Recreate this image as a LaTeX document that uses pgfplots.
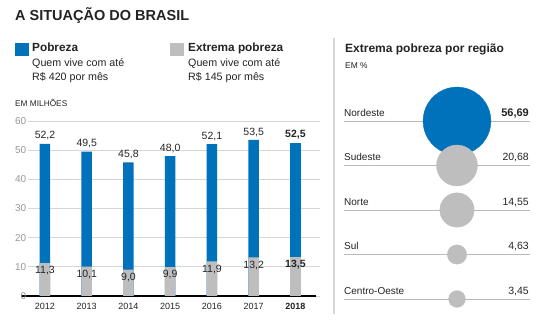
\documentclass[border=0pt]{standalone}
\usepackage{fontspec}
\setmainfont{Liberation Sans}
\usepackage{pgfplots}
\usepackage{pgfplotstable}
\pgfplotsset{compat=1.18}
\definecolor{pblue}{RGB}{0,114,187}
\definecolor{pgray}{RGB}{190,190,190}
\definecolor{gridc}{RGB}{214,214,214}
\definecolor{tickc}{RGB}{150,150,150}
\definecolor{txt}{RGB}{35,35,35}
\definecolor{rline}{RGB}{185,185,185}

\pgfplotstableread{
year total ext
2012 52.2 11.3
2013 49.5 10.1
2014 45.8 9.0
2015 48.0 9.9
2016 52.1 11.9
2017 53.5 13.2
}\tabA
\pgfplotstableread{
year total ext
2018 52.5 13.5
}\tabB
\pgfplotstableread{
row x v
0 0.6075 56.69
}\tabNE
\pgfplotstableread{
row x v
1 0.6075 20.68
2 0.6075 14.55
3 0.6075 4.63
4 0.6075 3.45
}\tabRest

\newcommand\fs[1]{\fontsize{#1}{#1}\selectfont}
\newcommand\numfmt{\pgfmathprintnumber[fixed,fixed zerofill,precision=1,use comma,assume math mode=true]{\pgfplotspointmeta}}

\begin{document}
\begin{tikzpicture}[x=1pt,y=1pt]
\path[use as bounding box] (0pt,0pt) rectangle (555pt,-328pt);
% title and legend
\node[anchor=base west, inner sep=0, text=txt] at (15pt,-21pt) {\fs{14.5}\bfseries A SITUAÇÃO DO BRASIL};
\fill[pblue] (15pt,-43pt) rectangle (29pt,-56pt);
\node[anchor=base west, inner sep=0, text=txt] at (32pt,-52pt) {\fs{11.8}\bfseries Pobreza};
\node[anchor=base west, inner sep=0, text=txt] at (32pt,-66.5pt) {\fs{10.7}Quem vive com até};
\node[anchor=base west, inner sep=0, text=txt] at (32pt,-81pt) {\fs{10.7}R\$ 420 por mês};
\fill[pgray] (170pt,-43pt) rectangle (184pt,-56pt);
\node[anchor=base west, inner sep=0, text=txt] at (188pt,-52pt) {\fs{11.8}\bfseries Extrema pobreza};
\node[anchor=base west, inner sep=0, text=txt] at (188pt,-66.5pt) {\fs{10.7}Quem vive com até};
\node[anchor=base west, inner sep=0, text=txt] at (188pt,-81pt) {\fs{10.7}R\$ 145 por mês};
\node[anchor=base west, inner sep=0, text=txt] at (15pt,-107pt) {\fs{8.3}EM MILHÕES};

% bar chart
\begin{axis}[
  at={(28pt,-296pt)}, anchor=south west, scale only axis,
  width=292pt, height=175pt,
  xmin=2011.593, xmax=2018.589, ymin=0, ymax=60,
  ybar, bar width=10.5pt,
  axis x line*=bottom, axis y line*=left,
  y axis line style={draw=none},
  x axis line style={draw=black, line width=1.2pt, shorten <=-7pt, shorten >=4pt},
  ytick={0,10,...,60}, ymajorgrids,
  grid style={gridc, line width=0.8pt},
  major tick length=0pt,
  yticklabel style={text=tickc, font=\fs{10}, inner sep=1.5pt},
  xtick={2012,2013,2014,2015,2016,2017,2018},
  xticklabels={2012,2013,2014,2015,2016,2017,\textbf{2018}},
  xticklabel style={font=\fs{9}, text=txt, yshift=-4pt},
  /pgf/number format/assume math mode=true,
  clip=false,
]
\addplot[fill=pblue, draw=none, bar shift=0pt,
  nodes near coords={\numfmt},
  every node near coord/.append style={font=\fs{10.5}, text=txt}]
  table[x=year, y=total]{\tabA};
\addplot[fill=pblue, draw=none, bar shift=0pt,
  nodes near coords={\textbf{\numfmt}},
  every node near coord/.append style={font=\fs{10.5}, text=txt}]
  table[x=year, y=total]{\tabB};
\addplot[fill=pgray, draw=none, bar shift=0pt,
  nodes near coords={\numfmt},
  every node near coord/.append style={font=\fs{10.5}, text=txt, anchor=north}]
  table[x=year, y=ext]{\tabA};
\addplot[fill=pgray, draw=none, bar shift=0pt,
  nodes near coords={\textbf{\numfmt}},
  every node near coord/.append style={font=\fs{10.5}, text=txt, anchor=north}]
  table[x=year, y=ext]{\tabB};
\end{axis}

% right panel
\draw[gridc, line width=1.2pt] (334pt,-38pt) -- (334pt,-314pt);
\node[anchor=base west, inner sep=0, text=txt] at (345pt,-53pt) {\fs{12}\bfseries Extrema pobreza por região};
\node[anchor=base west, inner sep=0, text=txt] at (345pt,-69pt) {\fs{8.4}EM \%};

\begin{axis}[
  at={(344pt,-299pt)}, anchor=south west, scale only axis,
  width=186pt, height=178pt,
  xmin=0, xmax=1, ymin=0, ymax=4, y dir=reverse,
  clip=false, axis line style={draw=none},
  xtick=\empty, ytick={0,1,2,3,4}, yticklabels={}, major tick length=0pt,
  ymajorgrids, grid style={rline, line width=0.8pt},
]
\addplot[scatter, only marks, mark=*,
  scatter/use mapped color={draw=pblue, fill=pblue},
  visualization depends on={4.5*sqrt(\thisrow{v}) \as \rad},
  scatter/@pre marker code/.append style={/tikz/mark size=\rad pt}]
  table[x=x, y=row]{\tabNE};
\addplot[scatter, only marks, mark=*,
  scatter/use mapped color={draw=pgray, fill=pgray},
  visualization depends on={4.5*sqrt(\thisrow{v}) \as \rad},
  scatter/@pre marker code/.append style={/tikz/mark size=\rad pt}]
  table[x=x, y=row]{\tabRest};
\end{axis}

\node[anchor=base west, inner sep=0, text=txt] at (344pt,-116.5pt) {\fs{10}Nordeste};
\node[anchor=base west, inner sep=0, text=txt] at (344pt,-161pt) {\fs{10}Sudeste};
\node[anchor=base west, inner sep=0, text=txt] at (344pt,-205.5pt) {\fs{10}Norte};
\node[anchor=base west, inner sep=0, text=txt] at (344pt,-250pt) {\fs{10}Sul};
\node[anchor=base west, inner sep=0, text=txt] at (344pt,-294.5pt) {\fs{10}Centro-Oeste};
\node[anchor=base east, inner sep=0, text=txt] at (529pt,-116.5pt) {\fs{11}\bfseries 56,69};
\node[anchor=base east, inner sep=0, text=txt] at (529pt,-161pt) {\fs{10.5}20,68};
\node[anchor=base east, inner sep=0, text=txt] at (529pt,-205.5pt) {\fs{10.5}14,55};
\node[anchor=base east, inner sep=0, text=txt] at (529pt,-250pt) {\fs{10.5}4,63};
\node[anchor=base east, inner sep=0, text=txt] at (529pt,-294.5pt) {\fs{10.5}3,45};
\end{tikzpicture}
\end{document}
